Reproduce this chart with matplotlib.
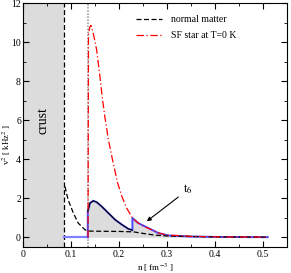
import numpy as np
import matplotlib
matplotlib.use("Agg")
import matplotlib.pyplot as plt
from matplotlib.ticker import MultipleLocator

plt.rcParams["font.family"] = ["Liberation Serif", "DejaVu Serif"]
plt.rcParams["mathtext.fontset"] = "stix"

# ── Data ──────────────────────────────────────────────────
N_CRUST = 0.085
N_ONSET = 0.135

# normal matter (black dashed)
n_normal = [0.0875, 0.094, 0.105, 0.115, 0.129, 0.135, 0.16, 0.20, 0.23,
            0.25, 0.275, 0.30, 0.35, 0.40, 0.45, 0.51]
v2_normal = [2.6, 1.92, 1.24, 0.73, 0.39, 0.32, 0.31, 0.30, 0.28,
             0.2, 0.11, 0.07, 0.04, 0.02, 0.012, 0.008]

# SF star at T=0 K (red dash-dot)
n_sf = [0.1355, 0.1365, 0.139, 0.1417, 0.146, 0.1535, 0.160, 0.165, 0.171,
        0.178, 0.188, 0.197, 0.206, 0.216, 0.228, 0.24, 0.25, 0.268, 0.282,
        0.30, 0.35, 0.40, 0.45, 0.51]
v2_sf = [0.0, 10.4, 10.75, 10.85, 10.5, 9.6, 8.3, 7.2, 6.1,
         5.0, 3.8, 2.8, 2.1, 1.5, 0.99, 0.73, 0.58, 0.39, 0.22,
         0.12, 0.05, 0.025, 0.015, 0.01]

# t6 curve (black solid, blue outline)
n_t6 = [0.135, 0.136, 0.1396, 0.1465, 0.1535, 0.164, 0.178, 0.192, 0.206,
        0.219, 0.228]
v2_t6 = [1.33, 1.41, 1.75, 1.87, 1.8, 1.58, 1.24, 0.9, 0.65, 0.44, 0.36]

# blue envelope: zero in the gap, t6 curve, then SF branch
n_gap = [N_CRUST, N_ONSET]
v2_gap = [0.0, 0.0]
n_tail = [0.228, 0.24, 0.254, 0.268, 0.282, 0.303, 0.35, 0.40, 0.45, 0.51]
v2_tail = [0.99, 0.73, 0.56, 0.39, 0.22, 0.09, 0.04, 0.02, 0.012, 0.008]

fig = plt.figure(figsize=(2.91, 2.73), dpi=100)
ax = fig.add_axes([0.079, 0.095, 0.907, 0.894])

# crust region
ax.axvspan(0, N_CRUST, color="#dcdcdc", lw=0, zorder=0)
ax.axvline(N_CRUST, color="black", ls=(0, (4, 2)), lw=0.9, zorder=3)
ax.axvline(N_ONSET - 0.0005, color="#909090", ls=(0, (1, 1)), lw=1.1,
           zorder=1)

# shaded area under blue envelope
n_env = n_t6 + n_tail
v2_env = v2_t6 + v2_tail
ax.fill_between(n_env, 0, v2_env, color="#dcdcdc", lw=0, zorder=1)

ax.plot(n_normal, v2_normal, color="black", ls=(0, (4, 2)), lw=0.9,
        label="normal matter", zorder=4)

ax.plot(n_gap, v2_gap, color="#8080ff", lw=1.6, zorder=3)
blue_n = [N_ONSET] + n_t6 + n_tail
blue_v = [0.0] + v2_t6 + v2_tail
ax.plot(blue_n, blue_v, color="#4848ff", lw=1.4, zorder=3)
ax.plot(n_t6, v2_t6, color="black", lw=0.8, zorder=4)

ax.plot(n_sf, v2_sf, color="red", ls=(0, (6, 2, 1, 2)), lw=0.9,
        label="SF star at T=0 K", zorder=5)

ax.text(0.042, 6.0, "crust", rotation=90, ha="center", va="center",
        fontsize=10)
ax.annotate("t$_6$", xy=(0.258, 0.82), xytext=(0.334, 2.45),
            fontsize=9, ha="left", va="center",
            arrowprops=dict(arrowstyle="-|>", color="black", lw=0.8,
                            mutation_scale=6, shrinkA=2, shrinkB=0))

ax.set_xlim(0, 0.55)
ax.set_ylim(-0.5, 12)
ax.xaxis.set_major_locator(MultipleLocator(0.1))
ax.xaxis.set_minor_locator(MultipleLocator(0.05))
ax.yaxis.set_major_locator(MultipleLocator(2))
ax.yaxis.set_minor_locator(MultipleLocator(1))
ax.set_xticks([0, 0.1, 0.2, 0.3, 0.4, 0.5])
ax.set_xticklabels(["0", "0.1", "0.2", "0.3", "0.4", "0.5"])
ax.tick_params(which="both", direction="in", top=True, right=True,
               labelsize=7)
ax.tick_params(axis="y", pad=1.5)
ax.tick_params(axis="x", pad=2)
ax.tick_params(which="major", length=4)
ax.tick_params(which="minor", length=2)

ax.set_xlabel("n [ fm$^{-3}$ ]", fontsize=6.5)
ax.set_ylabel("v$^2$ [ kHz$^2$ ]", fontsize=6.5)
ax.yaxis.set_label_coords(-0.036, 0.42)
ax.xaxis.set_label_coords(0.5, -0.058)

ax.legend(loc="upper left", bbox_to_anchor=(0.43, 0.95), frameon=False,
          fontsize=7, handlelength=2.6, handletextpad=1.0,
          labelspacing=0.7, borderpad=0, borderaxespad=0)

fig.savefig("out.png", dpi=100)
